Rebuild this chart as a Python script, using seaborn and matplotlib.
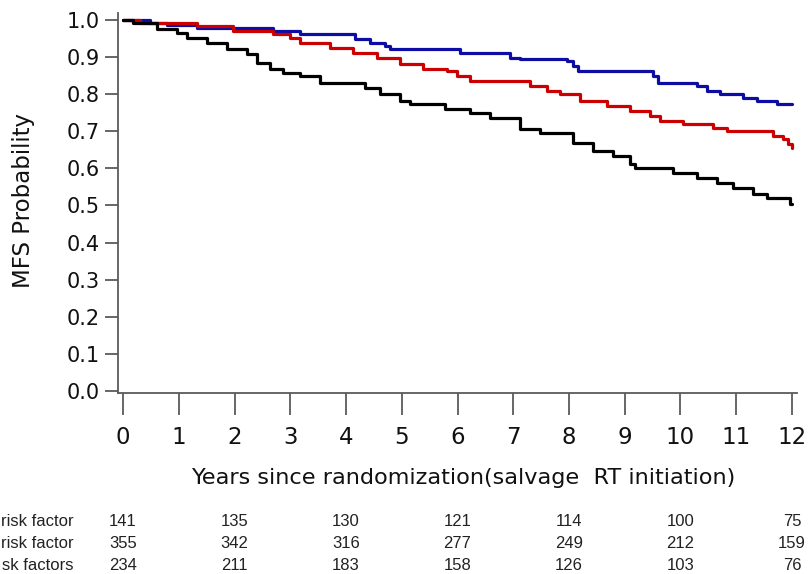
import matplotlib
matplotlib.use("Agg")
import matplotlib.pyplot as plt
import matplotlib.transforms as mtransforms
import numpy as np
import pandas as pd
import seaborn as sns

# Kaplan-Meier step estimates (time in years, metastasis-free survival)
blue_time = [0, 0.48, 0.79, 1.33, 2.69, 3.17, 4.16, 4.43, 4.70, 4.79, 6.04, 6.94, 7.12,
             7.96, 8.07, 8.16, 9.51, 9.60, 10.30, 10.48, 10.71, 11.12, 11.37, 11.73, 12.0]
blue_surv = [1.0, 0.992, 0.986, 0.978, 0.970, 0.962, 0.949, 0.938, 0.930, 0.920, 0.911, 0.897, 0.894,
             0.889, 0.876, 0.862, 0.849, 0.830, 0.822, 0.808, 0.800, 0.789, 0.781, 0.773, 0.773]

red_time = [0, 0.30, 1.33, 1.97, 2.69, 3.0, 3.17, 3.71, 4.13, 4.56, 4.97, 5.38, 5.81, 5.99,
            6.22, 7.30, 7.61, 7.84, 8.20, 8.68, 9.09, 9.45, 9.63, 10.04, 10.58, 10.83, 11.66,
            11.84, 11.93, 12.0]
red_surv = [1.0, 0.992, 0.984, 0.970, 0.962, 0.951, 0.938, 0.924, 0.911, 0.897, 0.881, 0.868, 0.862, 0.849,
            0.835, 0.822, 0.808, 0.800, 0.781, 0.768, 0.754, 0.741, 0.727, 0.719, 0.708, 0.700, 0.686,
            0.678, 0.665, 0.654]

black_time = [0, 0.18, 0.61, 0.97, 1.15, 1.51, 1.87, 2.22, 2.40, 2.64, 2.87, 3.17, 3.53, 4.34,
              4.61, 4.97, 5.15, 5.78, 6.22, 6.58, 7.12, 7.48, 8.07, 8.43, 8.79, 9.09, 9.18, 9.87,
              10.30, 10.66, 10.94, 11.30, 11.55, 11.96, 12.0]
black_surv = [1.0, 0.992, 0.976, 0.965, 0.950, 0.938, 0.920, 0.908, 0.884, 0.868, 0.857, 0.849, 0.830, 0.816,
              0.800, 0.781, 0.773, 0.759, 0.749, 0.735, 0.705, 0.695, 0.668, 0.646, 0.632, 0.611, 0.600, 0.587,
              0.573, 0.560, 0.546, 0.532, 0.519, 0.505, 0.505]

# Numbers at risk (row labels run off the left edge of the figure)
risk_times = [0, 2, 4, 6, 8, 10, 12]
risk_labels = ["risk factor", "risk factor", "sk factors"]
risk_counts = [
    [141, 135, 130, 121, 114, 100, 75],
    [355, 342, 316, 277, 249, 212, 159],
    [234, 211, 183, 158, 126, 103, 76],
]

x_ticks = list(range(0, 13))
y_ticks = [round(0.1 * i, 1) for i in range(0, 11)]

df = pd.concat([
    pd.DataFrame({"time": blue_time, "surv": blue_surv, "group": "g0"}),
    pd.DataFrame({"time": red_time, "surv": red_surv, "group": "g1"}),
    pd.DataFrame({"time": black_time, "surv": black_surv, "group": "g2"}),
])
palette = {"g0": "#0d0da6", "g1": "#cc0000", "g2": "#000000"}

sns.set_style("white")
plt.rcParams["font.family"] = ["DejaVu Sans"]
table_font = ["Liberation Sans", "DejaVu Sans"]

W, H = 808, 574
fig = plt.figure(figsize=(W / 100, H / 100), dpi=100)
ax = fig.add_axes([118 / W, 1 - 393 / H, (797 - 118) / W, (393 - 13) / H])

sns.lineplot(data=df, x="time", y="surv", hue="group", palette=palette,
             drawstyle="steps-post", estimator=None, sort=False, legend=False,
             linewidth=2.3, ax=ax)

ax.set_xlim(-0.09, 12.09)
ax.set_ylim(-0.005, 1.018)
ax.set_xticks(x_ticks)
ax.set_yticks(y_ticks)
ax.set_xticklabels([str(t) for t in x_ticks])
ax.set_yticklabels([f"{v:.1f}" for v in y_ticks])
ax.set_xlabel("")
ax.set_ylabel("")

for side in ["top", "right"]:
    ax.spines[side].set_visible(False)
axis_color = "#5a5a5a"
for side in ["left", "bottom"]:
    ax.spines[side].set_color(axis_color)
    ax.spines[side].set_linewidth(1.3)

ax.tick_params(axis="y", left=True, direction="out", length=9.5, width=1.3, color=axis_color,
               labelsize=15, pad=3.5, labelcolor="#111111")
ax.tick_params(axis="x", bottom=True, direction="out", length=16, width=1.3, color=axis_color,
               labelsize=16.5, pad=8, labelcolor="#111111")

fig.text(463 / W, 1 - 478 / H, "Years since randomization(salvage  RT initiation)",
         ha="center", va="center", fontsize=16.1, color="#111111")
fig.text(24 / W, 1 - 201 / H, "MFS Probability", rotation=90,
         ha="center", va="center", fontsize=16.5, color="#111111")

# Numbers-at-risk table below the axis
trans = mtransforms.blended_transform_factory(ax.transData, fig.transFigure)
row_y = [522, 543, 565]
for label, counts, yp in zip(risk_labels, risk_counts, row_y):
    fig.text(74 / W, 1 - yp / H, label, ha="right", va="center", fontsize=12,
             color="#222222", family=table_font)
    for t, c in zip(risk_times, counts):
        ax.text(t, 1 - yp / H, str(c), transform=trans, ha="center", va="center",
                fontsize=12, color="#222222", clip_on=False, family=table_font)

fig.savefig("out.png", dpi=100)
